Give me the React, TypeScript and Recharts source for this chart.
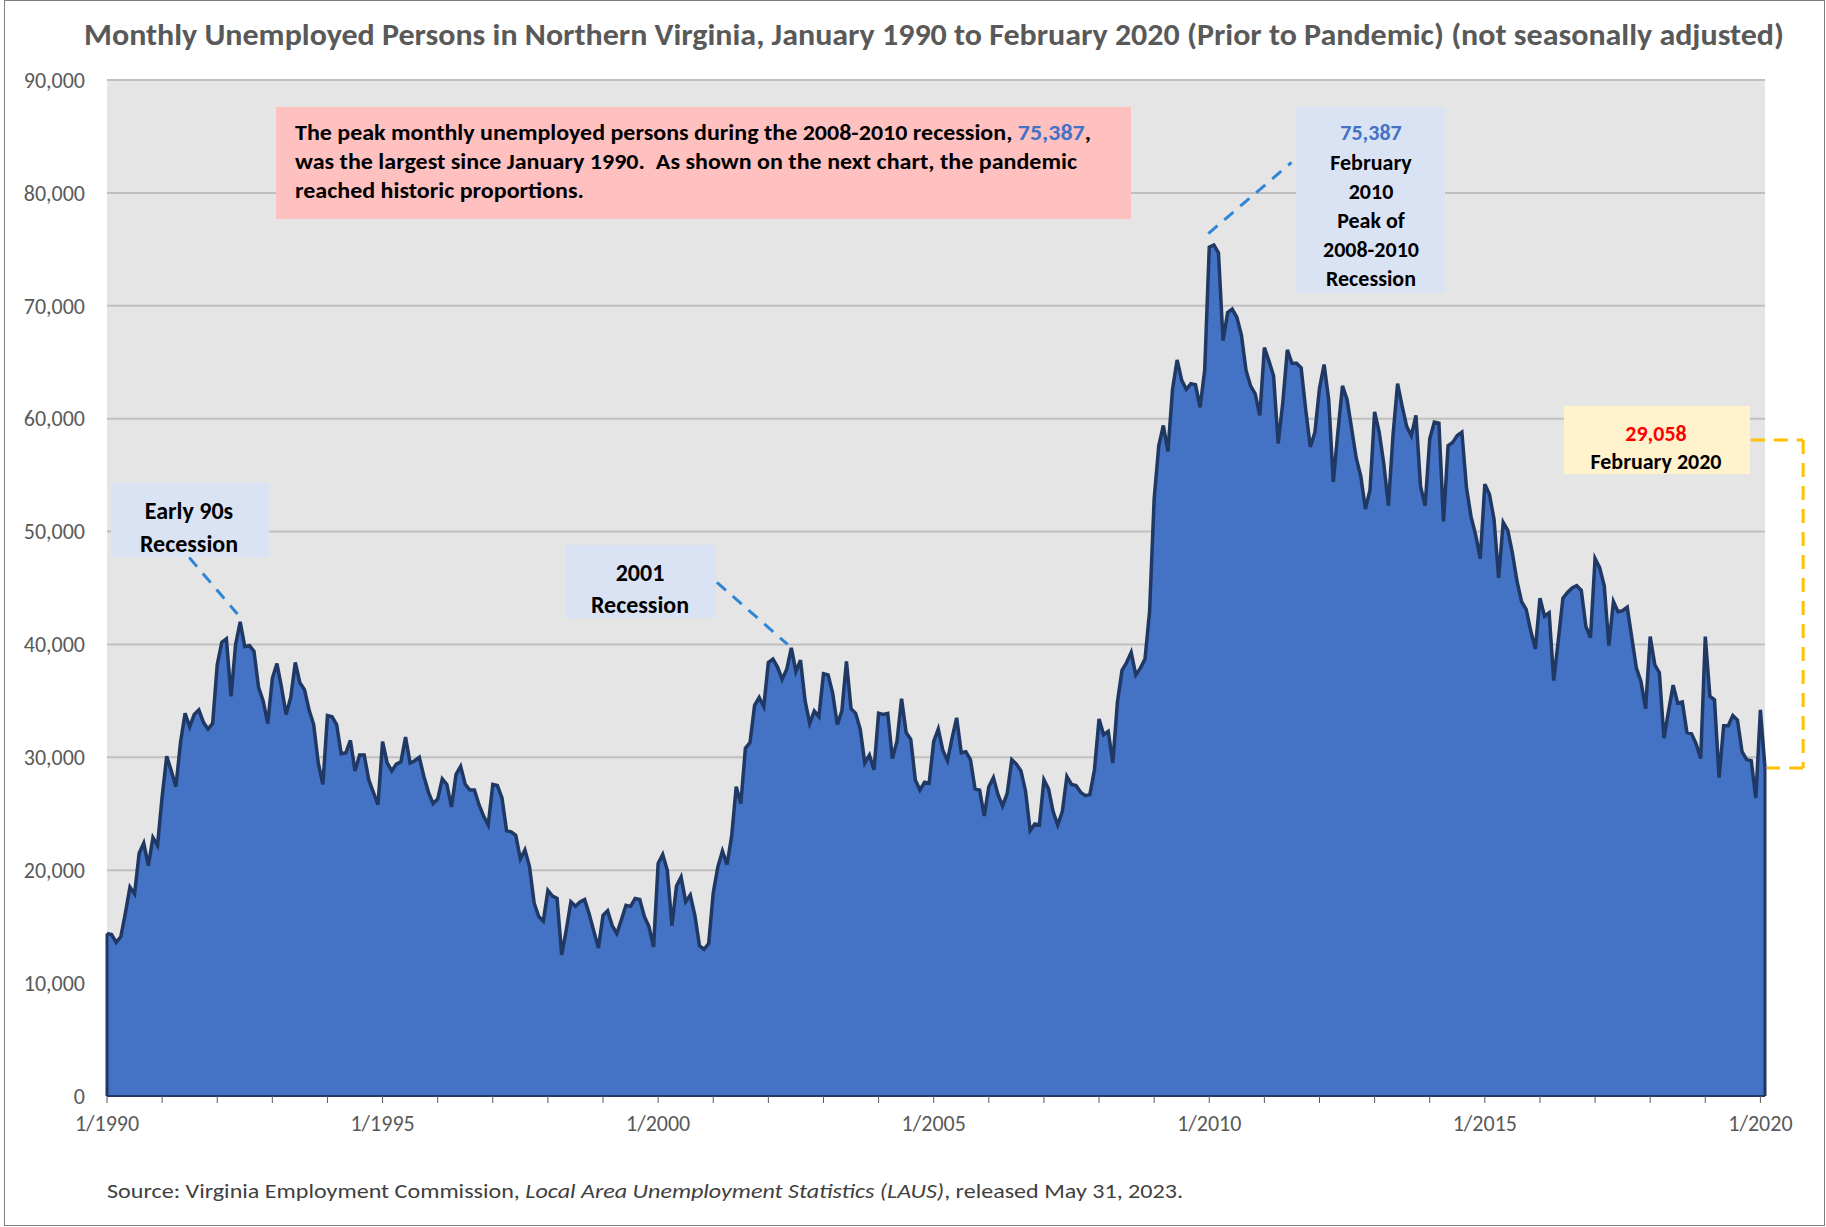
import React from 'react';
import { AreaChart, Area, XAxis, YAxis, CartesianGrid, ReferenceLine } from 'recharts';

// Monthly unemployed persons, Northern Virginia (Jan 1990 – Feb 2020)
const y1990 = [14400, 14300, 13600, 14100, 16200, 18500, 17900, 21500, 22400, 20400, 22900, 22200];
const y1991 = [26500, 30100, 28800, 27400, 31300, 33900, 32700, 33800, 34200, 33100, 32500, 33000];
const y1992 = [38200, 40200, 40500, 35400, 40000, 42000, 39800, 39900, 39400, 36200, 35000, 33000];
const y1993 = [37000, 38300, 36200, 33800, 35300, 38400, 36600, 36000, 34200, 32900, 29500, 27600];
const y1994 = [33700, 33600, 32900, 30300, 30400, 31500, 28800, 30200, 30200, 28000, 26900, 25800];
const y1995 = [31400, 29500, 28800, 29400, 29600, 31800, 29500, 29700, 30000, 28300, 26900, 25900];
const y1996 = [26300, 28100, 27600, 25600, 28500, 29200, 27600, 27100, 27100, 25800, 24800, 24000];
const y1997 = [27600, 27500, 26400, 23500, 23400, 23100, 21000, 21800, 20300, 17100, 15900, 15500];
const y1998 = [18200, 17700, 17500, 12500, 14700, 17200, 16800, 17200, 17400, 16100, 14600, 13100];
const y1999 = [16000, 16400, 15100, 14400, 15600, 16900, 16800, 17500, 17400, 15900, 15000, 13200];
const y2000 = [20600, 21400, 20000, 15100, 18600, 19400, 17200, 17800, 16000, 13300, 13000, 13500];
const y2001 = [18000, 20300, 21700, 20500, 23000, 27400, 25900, 30800, 31300, 34600, 35300, 34500];
const y2002 = [38400, 38700, 38000, 36900, 37800, 39700, 37600, 38600, 35000, 33000, 34100, 33600];
const y2003 = [37400, 37300, 35700, 32900, 34100, 38500, 34300, 33900, 32500, 29500, 30200, 28900];
const y2004 = [33900, 33800, 33900, 29900, 31400, 35200, 32200, 31600, 28000, 27100, 27800, 27700];
const y2005 = [31400, 32500, 30600, 29700, 31700, 33500, 30400, 30500, 29800, 27200, 27100, 24800];
const y2006 = [27400, 28200, 26700, 25700, 26800, 29800, 29400, 28800, 27000, 23500, 24100, 24000];
const y2007 = [28000, 27200, 25200, 24000, 25200, 28300, 27600, 27500, 26900, 26600, 26700, 28900];
const y2008 = [33400, 32000, 32300, 29500, 34900, 37700, 38400, 39300, 37300, 37900, 38700, 42900];
const y2009 = [52900, 57600, 59400, 57100, 62600, 65200, 63400, 62600, 63100, 63000, 61000, 64300];
const y2010 = [75200, 75387, 74700, 66900, 69400, 69700, 69000, 67400, 64300, 62900, 62200, 60300];
const y2011 = [66300, 65100, 63800, 57800, 61400, 66100, 64900, 64900, 64500, 60800, 57500, 58800];
const y2012 = [62700, 64800, 61700, 54400, 58800, 62900, 61700, 59100, 56500, 54900, 52000, 53700];
const y2013 = [60600, 58800, 56000, 52300, 58500, 63100, 61100, 59300, 58500, 60300, 54000, 52300];
const y2014 = [58200, 59700, 59600, 50900, 57600, 57900, 58500, 58800, 53900, 51300, 49700, 47600];
const y2015 = [54200, 53300, 51100, 45900, 50800, 50100, 48100, 45600, 43800, 43100, 41200, 39600];
const y2016 = [44100, 42500, 42800, 36800, 40400, 44100, 44600, 45000, 45200, 44800, 41600, 40600];
const y2017 = [47600, 46800, 45200, 39900, 43800, 42900, 43000, 43300, 40600, 37900, 36700, 34300];
const y2018 = [40700, 38200, 37500, 31700, 34100, 36400, 34800, 34900, 32200, 32100, 31200, 29900];
const y2019 = [40700, 35400, 35100, 28200, 32800, 32800, 33700, 33300, 30500, 29800, 29700, 26400];
const y2020 = [34200, 29058];

const years = [
  y1990, y1991, y1992, y1993, y1994, y1995, y1996, y1997, y1998, y1999,
  y2000, y2001, y2002, y2003, y2004, y2005, y2006, y2007, y2008, y2009,
  y2010, y2011, y2012, y2013, y2014, y2015, y2016, y2017, y2018, y2019, y2020,
];

const yTicks = [0, 10000, 20000, 30000, 40000, 50000, 60000, 70000, 80000, 90000];
const xTickMonths = [0, 12, 24, 36, 48, 60, 72, 84, 96, 108, 120, 132, 144, 156, 168, 180, 192, 204, 216, 228, 240, 252, 264, 276, 288, 300, 312, 324, 336, 348, 360];
const xTickLabels: Record<number, string> = {
  0: '1/1990', 60: '1/1995', 120: '1/2000', 180: '1/2005', 240: '1/2010', 300: '1/2015', 360: '1/2020',
};

const data = years.flat().map((v, i) => ({ i, v }));
const lastIdx = data.length - 1;
const firstVal = data[0].v;
const lastVal = data[lastIdx].v;

const FONT = 'Carlito, Lato, "Noto Sans", sans-serif';
const NAVY = '#1f3864';
const CALLOUT = '#2f86d6';
const YELLOW = '#ffc000';

export default function App() {
  return (
    <div style={{ position: 'relative', width: 1826, height: 1227, background: '#fff', fontFamily: FONT }}>
      <style>{'body{margin:0;}'}</style>
      <AreaChart width={1826} height={1227} data={data} margin={{ top: 80, right: 61, bottom: 91, left: 7 }}>
        <CartesianGrid vertical={false} horizontal fill="#e5e5e5" stroke="#bfbfbf" strokeWidth={2} />
        <XAxis
          type="number"
          dataKey="i"
          domain={[0, lastIdx]}
          ticks={xTickMonths}
          interval={0}
          tickFormatter={(t: number) => xTickLabels[t] ?? ''}
          tick={{ fill: '#595959', fontSize: 22, fontFamily: FONT }}
          tickSize={7}
          tickMargin={12}
          axisLine={{ stroke: NAVY, strokeWidth: 2 }}
          tickLine={{ stroke: '#595959', strokeWidth: 1 }}
          height={40}
        />
        <YAxis
          domain={[0, 90000]}
          ticks={yTicks}
          interval={0}
          tickFormatter={(v: number) => v.toLocaleString('en-US')}
          tick={{ fill: '#595959', fontSize: 22, fontFamily: FONT }}
          axisLine={false}
          tickLine={false}
          tickSize={0}
          tickMargin={22}
          width={100}
        />
        <Area
          type="linear"
          dataKey="v"
          stroke={NAVY}
          strokeWidth={3.5}
          fill="#4472c4"
          fillOpacity={1}
          dot={false}
          activeDot={false}
          isAnimationActive={false}
        />
        <ReferenceLine segment={[{ x: 0, y: 0 }, { x: 0, y: firstVal }]} stroke={NAVY} strokeWidth={3} ifOverflow="visible" />
        <ReferenceLine segment={[{ x: lastIdx, y: 0 }, { x: lastIdx, y: lastVal }]} stroke={NAVY} strokeWidth={3} ifOverflow="visible" />
        {/* callout lines */}
        <ReferenceLine segment={[{ x: 17.9, y: 47700 }, { x: 28.4, y: 42700 }]} stroke={CALLOUT} strokeWidth={3} strokeDasharray="12 9" ifOverflow="visible" />
        <ReferenceLine segment={[{ x: 132.8, y: 45500 }, { x: 148.2, y: 40000 }]} stroke={CALLOUT} strokeWidth={3} strokeDasharray="12 9" ifOverflow="visible" />
        <ReferenceLine segment={[{ x: 239.8, y: 76400 }, { x: 257.9, y: 82700 }]} stroke={CALLOUT} strokeWidth={3} strokeDasharray="12 9" ifOverflow="visible" />
        <ReferenceLine segment={[{ x: 357.9, y: 58100 }, { x: 369.3, y: 58100 }]} stroke={YELLOW} strokeWidth={3} strokeDasharray="14 9" ifOverflow="visible" />
        <ReferenceLine segment={[{ x: 369.3, y: 58100 }, { x: 369.3, y: lastVal }]} stroke={YELLOW} strokeWidth={3} strokeDasharray="14 9" ifOverflow="visible" />
        <ReferenceLine segment={[{ x: 369.3, y: lastVal }, { x: lastIdx + 0.4, y: lastVal }]} stroke={YELLOW} strokeWidth={3} strokeDasharray="14 9" ifOverflow="visible" />
      </AreaChart>

      <svg
        width={1826}
        height={1227}
        style={{ position: 'absolute', left: 0, top: 0, pointerEvents: 'none' }}
        fontFamily={FONT}
      >
        <rect x={4.5} y={0.5} width={1820} height={1225} fill="none" stroke="#7f7f7f" strokeWidth={1} />

        <text x={934} y={34} textAnchor="middle" dominantBaseline="central" fontSize={31} fontWeight={700} fill="#595959" textLength={1700} lengthAdjust="spacingAndGlyphs">
          Monthly Unemployed Persons in Northern Virginia, January 1990 to February 2020 (Prior to Pandemic) (not seasonally adjusted)
        </text>

        {/* pink note */}
        <rect x={276} y={107} width={855} height={112} fill="#ffc0c0" />
        <g fontSize={22} fontWeight={700} fill="#000">
          <text x={295} y={132} dominantBaseline="central" textLength={796} lengthAdjust="spacingAndGlyphs">
            The peak monthly unemployed persons during the 2008-2010 recession, <tspan fill="#4472c4">75,387</tspan>,
          </text>
          <text x={295} y={161} dominantBaseline="central" textLength={782} lengthAdjust="spacingAndGlyphs" xmlSpace="preserve" style={{ whiteSpace: 'pre' }}>
            {'was the largest since January 1990.  As shown on the next chart, the pandemic'}
          </text>
          <text x={295} y={190} dominantBaseline="central" textLength={289} lengthAdjust="spacingAndGlyphs">
            reached historic proportions.
          </text>
        </g>

        {/* peak box */}
        <rect x={1296} y={107} width={149} height={186} fill="#dae3f3" />
        <g fontSize={22} fontWeight={700} textAnchor="middle">
          <text x={1371} y={132} dominantBaseline="central" fill="#4472c4">75,387</text>
          <text x={1371} y={162} dominantBaseline="central" fill="#000">February</text>
          <text x={1371} y={191} dominantBaseline="central" fill="#000">2010</text>
          <text x={1371} y={220} dominantBaseline="central" fill="#000">Peak of</text>
          <text x={1371} y={249} dominantBaseline="central" fill="#000">2008-2010</text>
          <text x={1371} y={278} dominantBaseline="central" fill="#000">Recession</text>
        </g>

        {/* early 90s box */}
        <rect x={111} y={483} width={158} height={74} fill="#dae3f3" />
        <g fontSize={24} fontWeight={700} textAnchor="middle" fill="#000">
          <text x={189} y={510} dominantBaseline="central">Early 90s</text>
          <text x={189} y={543} dominantBaseline="central">Recession</text>
        </g>

        {/* 2001 box */}
        <rect x={566} y={545} width={150} height={73} fill="#dae3f3" />
        <g fontSize={24} fontWeight={700} textAnchor="middle" fill="#000">
          <text x={640} y={572} dominantBaseline="central">2001</text>
          <text x={640} y={604} dominantBaseline="central">Recession</text>
        </g>

        {/* Feb 2020 box */}
        <rect x={1564} y={406} width={186} height={68} fill="#fff2cc" />
        <g fontSize={22} fontWeight={700} textAnchor="middle">
          <text x={1656} y={433} dominantBaseline="central" fill="#ff0000">29,058</text>
          <text x={1656} y={461} dominantBaseline="central" fill="#000">February 2020</text>
        </g>

        <text x={107} y={1191} dominantBaseline="central" fontSize={21} fill="#404040" textLength={1076} lengthAdjust="spacingAndGlyphs">
          Source: Virginia Employment Commission, <tspan fontStyle="italic">Local Area Unemployment Statistics (LAUS)</tspan>, released May 31, 2023.
        </text>
      </svg>
    </div>
  );
}
